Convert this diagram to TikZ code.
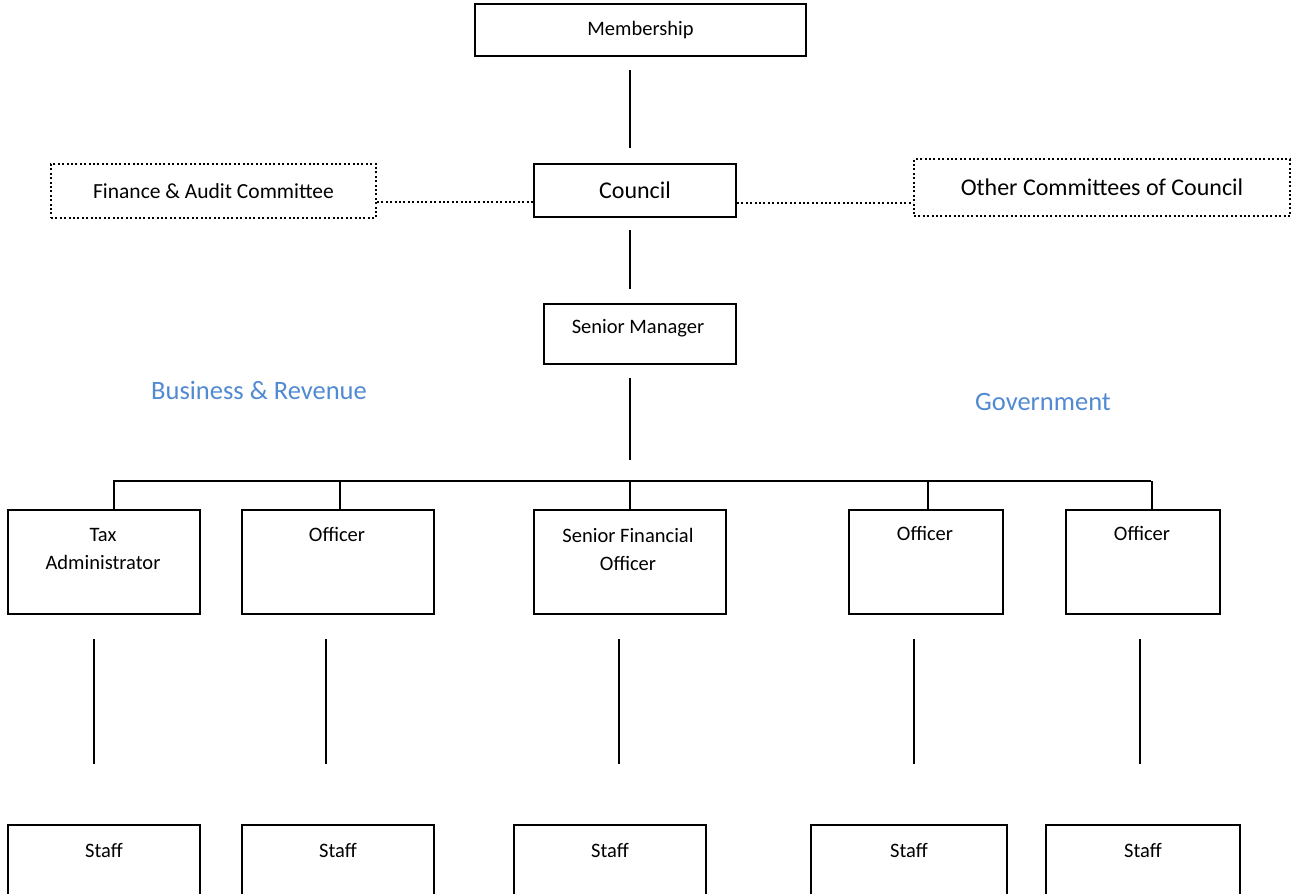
\documentclass[tikz,border=0pt]{standalone}
\usepackage{fontspec}
\setmainfont{Carlito}
\usetikzlibrary{positioning}
\definecolor{unitblue}{HTML}{5189D3}
\tikzset{
  box/.style={draw, line width=2pt, rectangle, inner sep=0pt, anchor=north west},
  dotbox/.style={box, dash pattern=on 2pt off 2.4pt},
  lbl/.style={inner sep=0pt, align=center, font=\fontsize{20.5}{28}\selectfont},
  unit/.style={inner sep=0pt, text=unitblue, font=\fontsize{26.5}{30}\selectfont},
  conn/.style={line width=2pt},
  dotline/.style={line width=2pt, dash pattern=on 2pt off 2.4pt},
}

\begin{document}
\begin{tikzpicture}[x=1pt,y=-1pt]
\useasboundingbox (0,0) rectangle (1291,894);

% governance
\node[box, minimum width=331pt, minimum height=52pt, font=\fontsize{20.5}{24}\selectfont] (mem) at (474,3) {Membership};
\node[box, minimum width=202pt, minimum height=53pt, font=\fontsize{24}{28}\selectfont] (council) at (533,163) {Council};
\node[dotbox, minimum width=325pt, minimum height=54pt, font=\fontsize{21.5}{24}\selectfont] (fin) at (50,163) {Finance \& Audit Committee};
\node[dotbox, minimum width=376pt, minimum height=57pt, font=\fontsize{24}{28}\selectfont] (other) at (913,158) {Other Committees of Council};
\node[box, minimum width=192pt, minimum height=60pt] (sm) at (543,303) {};
\node[lbl] (smt) at (638,328) {Senior Manager};

\draw[conn] ([xshift=-10.5pt,yshift=-13pt]mem.south) -- ([xshift=-5pt,yshift=15pt]council.north);
\draw[conn] ([xshift=-5pt,yshift=-12pt]council.south) -- ([xshift=-10pt,yshift=14pt]sm.north);
\draw[dotline] ([yshift=-11pt]fin.east) -- ([yshift=-11pt]fin.east -| council.west);
\draw[dotline] ([yshift=-12pt]council.east) -- ([yshift=-12pt]council.east -| other.west);

\node[unit] (busrev) at (259,390) {Business \& Revenue};
\node[unit] (gov) at (1043,402) {Government};

% officers
\node[box, minimum width=192pt, minimum height=104pt] (tax) at (7,509) {};
\node[box, minimum width=192pt, minimum height=104pt] (off1) at (241,509) {};
\node[box, minimum width=192pt, minimum height=104pt] (sfo) at (533,509) {};
\node[box, minimum width=154pt, minimum height=104pt] (off3) at (848,509) {};
\node[box, minimum width=154pt, minimum height=104pt] (off4) at (1065,509) {};
\node[lbl] (taxt) at (103,549) {Tax\\Administrator};
\node[lbl] (off1t) at (337,534) {Officer};
\node[lbl] (sfot) at (628,549) {Senior Financial\\Officer};
\node[lbl] (off3t) at (925,533) {Officer};
\node[lbl] (off4t) at (1142,533) {Officer};

\coordinate (busl) at (113,481);
\coordinate (busr) at (1151,481);
\draw[conn] ([xshift=-10pt,yshift=-13pt]sm.south) -- ++(0,82);
\draw[conn] (busl) -- (busr);
\foreach \b/\dx in {tax/10,off1/2,sfo/0,off3/2,off4/9}
  \draw[conn] ([xshift=\dx pt]\b.north) -- ([xshift=\dx pt]\b.north |- busl);

% staff
\foreach \s/\x/\w in {st1/7/192,st2/241/192,st3/513/192,st4/810/196,st5/1045/194}
  \node[box, minimum width=\w pt, minimum height=90pt] (\s) at (\x,824) {};
\foreach \s in {st1,st2,st3,st4,st5}
  \node[lbl] (\s t) at ([yshift=-26pt]\s.north) {Staff};

\foreach \b/\dx in {tax/-10,off1/-12,sfo/-11,off3/-12,off4/-3}
  \draw[conn] ([xshift=\dx pt,yshift=-24pt]\b.south) -- ++(0,125);
\end{tikzpicture}
\end{document}
